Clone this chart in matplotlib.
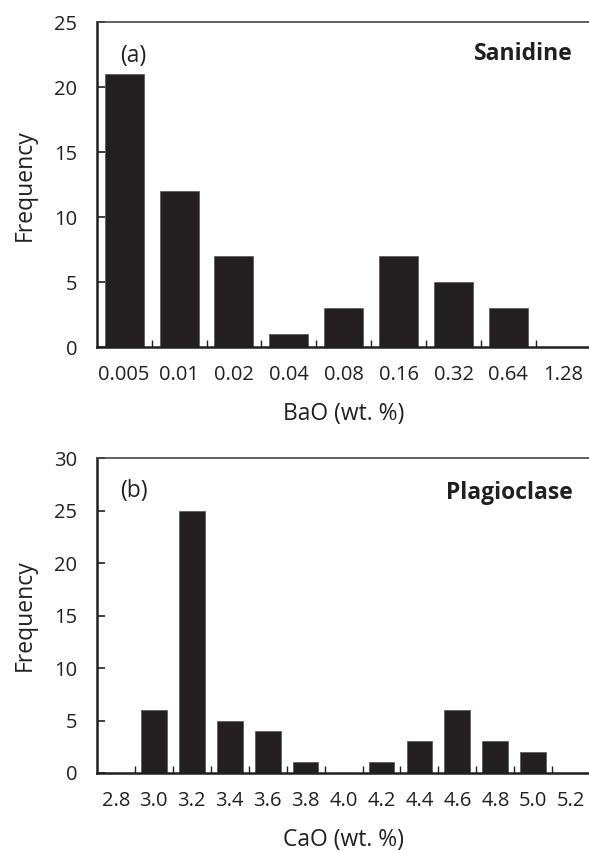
import numpy as np
import matplotlib.pyplot as plt
from matplotlib.ticker import MultipleLocator, FixedLocator

plt.rcParams['font.family'] = ['Open Sans', 'DejaVu Sans']

# Datos
bao_labels = ['0.005', '0.01', '0.02', '0.04', '0.08', '0.16', '0.32', '0.64', '1.28']
bao_counts = [21, 12, 7, 1, 3, 7, 5, 3, 0]

cao_labels = ['2.8', '3.0', '3.2', '3.4', '3.6', '3.8', '4.0', '4.2', '4.4', '4.6', '4.8', '5.0', '5.2']
cao_counts = [0, 6, 25, 5, 4, 1, 0, 1, 3, 6, 3, 2, 0]

bar_color = '#231f20'
fs = 14.5  # etiquetas de los ticks
fl = 16.5  # titulos de ejes y textos

fig = plt.figure(figsize=(5.89, 8.51), dpi=100)
ax1 = fig.add_axes([0.1642, 0.5919, 0.8388, 0.3819])
ax2 = fig.add_axes([0.1645, 0.0917, 0.8375, 0.3698])


def panel(ax, labels, counts, width, ymax, xlabel, tag, name, tag_y, name_y):
    x = np.arange(len(labels))
    ax.bar(x, counts, width=width, color=bar_color, edgecolor='#555555', linewidth=0.5, zorder=2)
    ax.set_xlim(-0.5, len(labels) - 0.5)
    ax.set_ylim(0, ymax)
    ax.set_xticks(x)
    ax.set_xticklabels(labels, fontsize=fs, color='#231f20')
    ax.xaxis.set_minor_locator(FixedLocator(x[:-1] + 0.5))
    ax.tick_params(axis='x', which='major', length=0, pad=13)
    ax.tick_params(axis='x', which='minor', direction='in', length=5, width=1.0, color='#231f20')
    ax.yaxis.set_major_locator(MultipleLocator(5))
    ax.tick_params(axis='y', direction='in', length=6, width=1.2, pad=14, labelsize=fs,
                   color='#231f20', labelcolor='#231f20')
    ax.spines['right'].set_visible(False)
    ax.spines['left'].set_linewidth(1.8)
    ax.spines['bottom'].set_linewidth(1.8)
    ax.spines['top'].set_linewidth(1.2)
    ax.spines['top'].set_color('#444444')
    for s in ('left', 'bottom'):
        ax.spines[s].set_color('#231f20')
    ax.set_xlabel(xlabel, fontsize=fl, color='#231f20', labelpad=12)
    ax.set_ylabel('Frequency', fontsize=fl, color='#231f20')
    ax.yaxis.set_label_coords(-0.122, 0.5)
    ax.text(0.047, tag_y, tag, transform=ax.transAxes, fontsize=fl, color='#231f20',
            ha='left', va='center')
    ax.text(0.964, name_y, name, transform=ax.transAxes, fontsize=fl, fontweight='bold',
            color='#231f20', ha='right', va='center')


panel(ax1, bao_labels, bao_counts, 0.71, 25, 'BaO (wt. %)', '(a)', 'Sanidine', 0.897, 0.903)
panel(ax2, cao_labels, cao_counts, 0.68, 30, 'CaO (wt. %)', '(b)', 'Plagioclase', 0.895, 0.89)

fig.savefig('out.png', dpi=100)
